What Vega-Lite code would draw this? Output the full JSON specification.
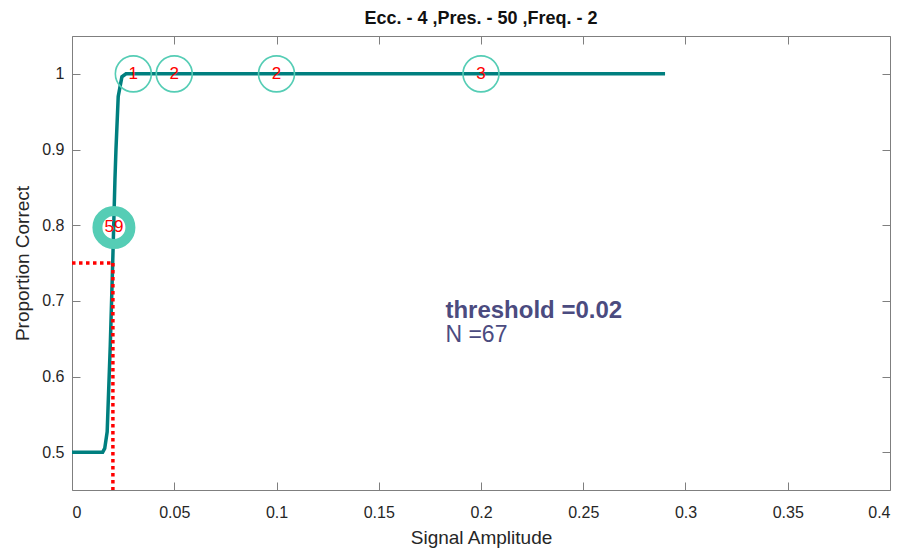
{
  "$schema": "https://vega.github.io/schema/vega-lite/v6.json",
  "width": 818,
  "height": 454,
  "autosize": {"type": "none"},
  "padding": {"left": 72, "top": 36, "right": 19, "bottom": 61},
  "background": "white",
  "config": {
    "font": "Liberation Sans",
    "view": {"stroke": null},
    "axis": {
      "grid": false,
      "domainColor": "#7F7F7F",
      "tickColor": "#7F7F7F",
      "tickSize": -8,
      "labelFont": "Liberation Sans",
      "labelFontSize": 16,
      "labelColor": "#262626",
      "titleFont": "Liberation Sans",
      "titleFontSize": 19,
      "titleFontWeight": "normal",
      "titleColor": "#262626"
    }
  },
  "title": {
    "text": "Ecc. - 4 ,Pres. - 50 ,Freq. - 2",
    "font": "Liberation Sans",
    "fontSize": 18,
    "fontWeight": "bold",
    "color": "#111111",
    "offset": 8
  },
  "datasets": {
    "curve": [
      {"x": 0, "y": 0.5},
      {"x": 0.015, "y": 0.5},
      {"x": 0.016, "y": 0.505},
      {"x": 0.0172, "y": 0.527},
      {"x": 0.0187, "y": 0.64},
      {"x": 0.0199, "y": 0.75},
      {"x": 0.021, "y": 0.86},
      {"x": 0.0215, "y": 0.9},
      {"x": 0.0226, "y": 0.97},
      {"x": 0.0244, "y": 0.996},
      {"x": 0.0264, "y": 1},
      {"x": 0.29, "y": 1}
    ],
    "thresh": [
      {"seg": "h", "x": 0, "y": 0.75},
      {"seg": "h", "x": 0.02, "y": 0.75},
      {"seg": "v", "x": 0.02, "y": 0.75},
      {"seg": "v", "x": 0.02, "y": 0.45}
    ],
    "points": [
      {"x": 0.03, "y": 1, "n": 1},
      {"x": 0.05, "y": 1, "n": 2},
      {"x": 0.1, "y": 1, "n": 2},
      {"x": 0.2, "y": 1, "n": 3}
    ],
    "big": [
      {"x": 0.0205, "y": 0.797, "n": 59}
    ],
    "note1": [
      {"x": 0.1826, "y": 0.6768, "label": "threshold =0.02"}
    ],
    "note2": [
      {"x": 0.1826, "y": 0.6455, "label": "N =67"}
    ]
  },
  "resolve": {"axis": {"x": "independent", "y": "independent"}},
  "layer": [
    {
      "data": {"name": "curve"},
      "mark": {"type": "point", "opacity": 0},
      "encoding": {
        "x": {"field": "x", "type": "quantitative", "scale": {"domain": [0, 0.4], "nice": false},
              "axis": {"orient": "top", "labels": false, "title": null, "values": [0,0.05,0.1,0.15,0.2,0.25,0.3,0.35,0.4]}},
        "y": {"field": "y", "type": "quantitative", "scale": {"domain": [0.45, 1.05], "nice": false, "zero": false},
              "axis": {"orient": "right", "labels": false, "title": null, "values": [0.5,0.6,0.7,0.8,0.9,1]}}
      }
    },
    {
      "data": {"name": "curve"},
      "mark": {"type": "line", "color": "#007F7F", "strokeWidth": 3.5, "interpolate": "linear"},
      "encoding": {
        "x": {"field": "x", "type": "quantitative",
              "axis": {"orient": "bottom", "title": "Signal Amplitude", "values": [0,0.05,0.1,0.15,0.2,0.25,0.3,0.35,0.4], "format": "~g", "labelPadding": 22, "titlePadding": 8}},
        "y": {"field": "y", "type": "quantitative",
              "axis": {"orient": "left", "title": "Proportion Correct", "values": [0.5,0.6,0.7,0.8,0.9,1], "format": "~g", "labelPadding": 16, "titlePadding": 9}}
      }
    },
    {
      "data": {"name": "thresh"},
      "mark": {"type": "line", "color": "#FF0000", "strokeWidth": 3.5, "strokeDash": [3.5, 3.5], "strokeCap": "butt"},
      "encoding": {
        "x": {"field": "x", "type": "quantitative", "axis": null},
        "y": {"field": "y", "type": "quantitative", "axis": null},
        "detail": {"field": "seg"}
      }
    },
    {
      "data": {"name": "points"},
      "mark": {"type": "point", "shape": "circle", "filled": false, "stroke": "#55CDB5", "strokeWidth": 1.6, "size": 1296, "opacity": 1},
      "encoding": {
        "x": {"field": "x", "type": "quantitative", "axis": null},
        "y": {"field": "y", "type": "quantitative", "axis": null}
      }
    },
    {
      "data": {"name": "big"},
      "mark": {"type": "point", "shape": "circle", "filled": false, "stroke": "#55CDB5", "strokeWidth": 10, "size": 1089, "opacity": 1},
      "encoding": {
        "x": {"field": "x", "type": "quantitative", "axis": null},
        "y": {"field": "y", "type": "quantitative", "axis": null}
      }
    },
    {
      "data": {"name": "points"},
      "mark": {"type": "text", "color": "#FF0000", "fontSize": 17, "align": "center", "baseline": "middle", "font": "Liberation Sans"},
      "encoding": {
        "x": {"field": "x", "type": "quantitative", "axis": null},
        "y": {"field": "y", "type": "quantitative", "axis": null},
        "text": {"field": "n", "type": "nominal"}
      }
    },
    {
      "data": {"name": "big"},
      "mark": {"type": "text", "color": "#FF0000", "fontSize": 17, "align": "center", "baseline": "middle", "font": "Liberation Sans"},
      "encoding": {
        "x": {"field": "x", "type": "quantitative", "axis": null},
        "y": {"field": "y", "type": "quantitative", "axis": null},
        "text": {"field": "n", "type": "nominal"}
      }
    },
    {
      "data": {"name": "note1"},
      "mark": {"type": "text", "color": "#4B4B7F", "align": "left", "baseline": "alphabetic", "font": "Liberation Sans", "fontSize": 24, "fontWeight": "bold"},
      "encoding": {
        "x": {"field": "x", "type": "quantitative", "axis": null},
        "y": {"field": "y", "type": "quantitative", "axis": null},
        "text": {"field": "label", "type": "nominal"}
      }
    },
    {
      "data": {"name": "note2"},
      "mark": {"type": "text", "color": "#4B4B7F", "align": "left", "baseline": "alphabetic", "font": "Liberation Sans", "fontSize": 23},
      "encoding": {
        "x": {"field": "x", "type": "quantitative", "axis": null},
        "y": {"field": "y", "type": "quantitative", "axis": null},
        "text": {"field": "label", "type": "nominal"}
      }
    }
  ]
}
